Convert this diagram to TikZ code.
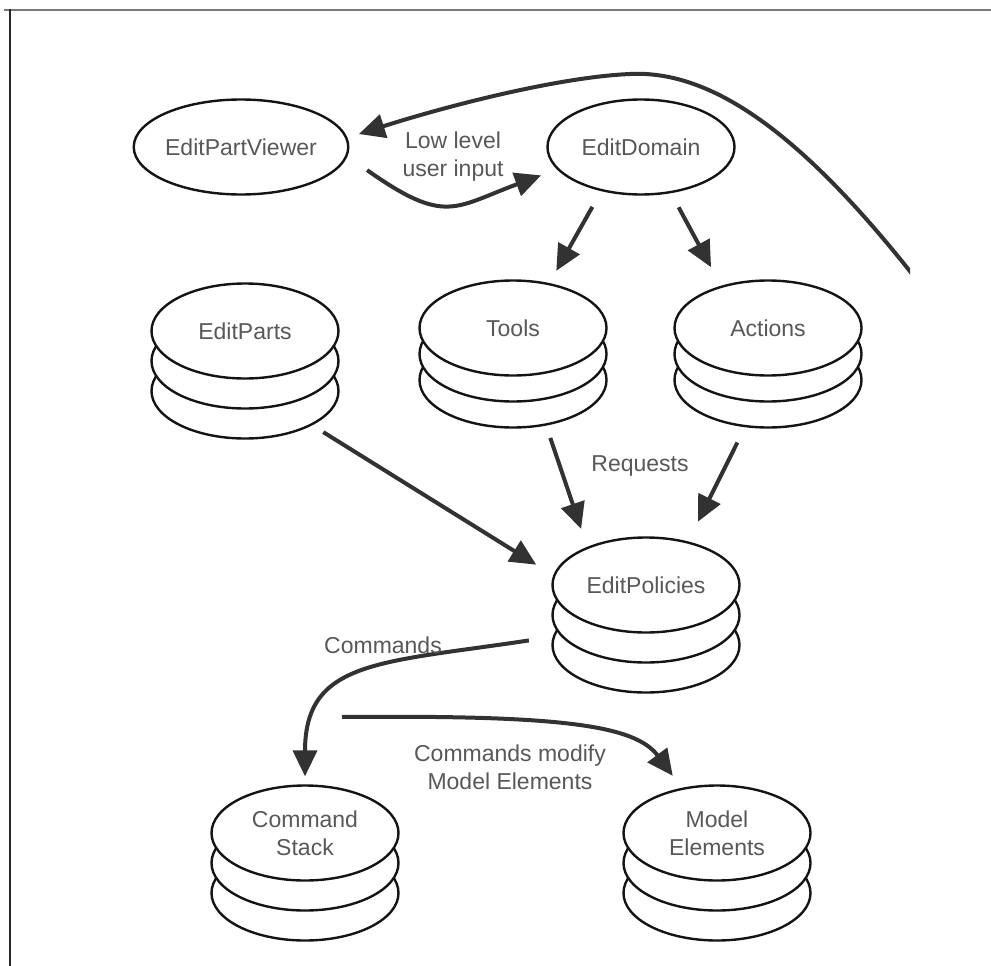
\documentclass[tikz,border=0pt]{standalone}
\usepackage{fontspec}
\setmainfont{Liberation Sans}
\usetikzlibrary{arrows.meta,shapes.geometric}
\definecolor{ink}{RGB}{50,50,50}
\definecolor{txt}{RGB}{88,88,88}
\definecolor{rimgray}{RGB}{122,122,122}
\newcommand\diagfont{\fontsize{23}{28}\selectfont}
\begin{document}
\begin{tikzpicture}[x=1pt,y=-1pt,
  disk/.style={ellipse, draw=black!92, line width=2.4pt, fill=white,
    minimum width=187pt, minimum height=95pt, inner sep=0pt,
    text=txt, font=\diagfont, align=center},
  flow/.style={draw=ink, line width=4pt, -{Triangle[length=26pt,width=24pt]}},
  lab/.style={text=txt, font=\diagfont, align=center, inner sep=0pt}]

% canvas and frame
\fill[white] (0,0) rectangle (991,966);
\useasboundingbox (0,0) rectangle (991,966);
\draw[rimgray, line width=2pt] (4,10) -- (991,10);
\draw[black!85, line width=2pt] (9.5,9) -- (9.5,966);

% single ellipses
\node[disk] (viewer) at (241,147) {EditPartViewer};
\node[disk] (dom) at (641,147) {EditDomain};

% stacks, drawn bottom disk first
\node[disk] (parts3) at (245,391) {};
\node[disk] (parts2) at (245,361) {};
\node[disk] (parts)  at (245,331) {EditParts};

\node[disk] (tools3) at (513,380) {};
\node[disk] (tools2) at (513,354) {};
\node[disk] (tools)  at (513,328) {Tools};

\node[disk] (actions3) at (768,380) {};
\node[disk] (actions2) at (768,354) {};
\node[disk] (actions)  at (768,328) {Actions};

\node[disk] (policies3) at (646,645) {};
\node[disk] (policies2) at (646,615) {};
\node[disk] (policies)  at (646,585) {EditPolicies};

\node[disk] (cstack3) at (305,893) {};
\node[disk] (cstack2) at (305,863) {};
\node[disk] (cstack)  at (305,833) {Command\\Stack};

\node[disk] (model3) at (717,893) {};
\node[disk] (model2) at (717,863) {};
\node[disk] (model)  at (717,833) {Model\\Elements};

% free ends
\coordinate (rim) at (920,284);
\coordinate (cmdstart) at (342,717);

% feedback arc back to the viewer
\begin{scope}
  \clip (0,0) rectangle (910,966);
  \draw[flow, shorten >=12pt] (rim) .. controls (800,130) and (710,70) .. (630,74)
     .. controls (560,77) and (450,105) .. (viewer.5);
\end{scope}

% low level user input
\draw[flow, shorten <=24pt, shorten >=17pt] (viewer.-5) .. controls +(98,69) and +(-103,38) .. (dom.195);

% edit domain to tools and actions
\draw[flow, shorten <=18pt, shorten >=14pt] (dom.228) -- (tools.51);
\draw[flow, shorten <=16pt, shorten >=21pt] (dom.303) -- (actions.138);

% into the edit policies
\draw[flow, shorten <=13pt, shorten >=20pt] (parts3.333) -- (policies.174);
\draw[flow, shorten <=13pt, shorten >=19pt] (tools3.306) -- (policies.147);
\draw[flow, shorten <=17pt, shorten >=22pt] (actions3.244) -- (policies.46);

% commands
\draw[flow, shorten <=24pt, shorten >=8pt] (policies3.175) .. controls (380,663) and (305,660) .. (cstack.north);
\draw[flow, shorten >=15pt] (cmdstart) .. controls (560,715) and (635,725) .. (model.128);

% labels
\node[lab] (lowlab) at (453,157) {Low level\\user input};
\node[lab] (reqlab) at (640,466) {Requests};
\node[lab] (cmdlab) at (383,645) {Commands};
\node[lab] (modlab) at (510,767) {Commands modify\\Model Elements};
\end{tikzpicture}
\end{document}
